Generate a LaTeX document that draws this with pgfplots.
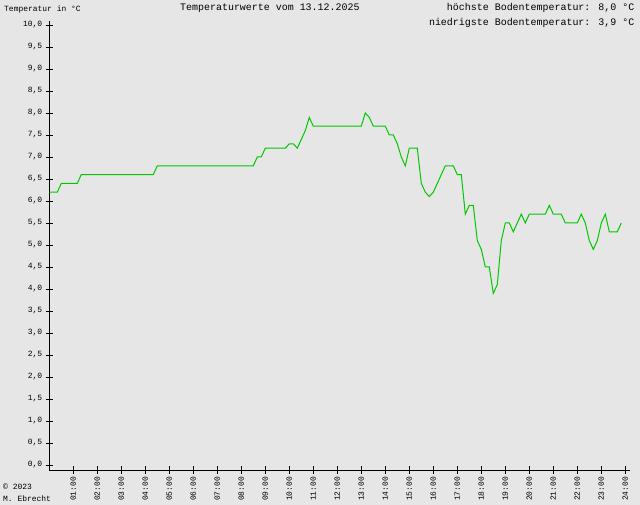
\documentclass[border=0pt]{standalone}
\usepackage{fontspec}
\setmainfont{Liberation Mono}
\usepackage{pgfplots}
\usepackage{pgfplotstable}
\pgfplotsset{compat=1.18}
\definecolor{bg}{RGB}{230,230,230}
\definecolor{lg}{RGB}{0,200,0}
\pgfplotstableread{
k T
0 6.2
1 6.2
2 6.2
3 6.4
4 6.4
5 6.4
6 6.4
7 6.4
8 6.6
9 6.6
10 6.6
11 6.6
12 6.6
13 6.6
14 6.6
15 6.6
16 6.6
17 6.6
18 6.6
19 6.6
20 6.6
21 6.6
22 6.6
23 6.6
24 6.6
25 6.6
26 6.6
27 6.8
28 6.8
29 6.8
30 6.8
31 6.8
32 6.8
33 6.8
34 6.8
35 6.8
36 6.8
37 6.8
38 6.8
39 6.8
40 6.8
41 6.8
42 6.8
43 6.8
44 6.8
45 6.8
46 6.8
47 6.8
48 6.8
49 6.8
50 6.8
51 6.8
52 7.0
53 7.0
54 7.2
55 7.2
56 7.2
57 7.2
58 7.2
59 7.2
60 7.3
61 7.3
62 7.2
63 7.4
64 7.6
65 7.9
66 7.7
67 7.7
68 7.7
69 7.7
70 7.7
71 7.7
72 7.7
73 7.7
74 7.7
75 7.7
76 7.7
77 7.7
78 7.7
79 8.0
80 7.9
81 7.7
82 7.7
83 7.7
84 7.7
85 7.5
86 7.5
87 7.3
88 7.0
89 6.8
90 7.2
91 7.2
92 7.2
93 6.4
94 6.2
95 6.1
96 6.2
97 6.4
98 6.6
99 6.8
100 6.8
101 6.8
102 6.6
103 6.6
104 5.7
105 5.9
106 5.9
107 5.1
108 4.9
109 4.5
110 4.5
111 3.9
112 4.1
113 5.1
114 5.5
115 5.5
116 5.3
117 5.5
118 5.7
119 5.5
120 5.7
121 5.7
122 5.7
123 5.7
124 5.7
125 5.9
126 5.7
127 5.7
128 5.7
129 5.5
130 5.5
131 5.5
132 5.5
133 5.7
134 5.5
135 5.1
136 4.9
137 5.1
138 5.5
139 5.7
140 5.3
141 5.3
142 5.3
143 5.5
}\temps
\begin{document}
\begin{tikzpicture}
\fill[bg] (0,0) rectangle (640bp,505bp);
\begin{axis}[
  anchor=south west, at={(49.3bp,35bp)},
  x=4bp, y=44bp,
  xmin=0, xmax=145.2, ymin=-0.114, ymax=10.09,
  axis x line*=bottom, axis y line*=left,
  axis line style={black, line width=0.9bp},
  tick style={black, line width=0.9bp},
  tick align=center, major tick length=7bp,
  minor tick num=0,
  xtick={6,12,...,144},
  xticklabels={01:00,02:00,03:00,04:00,05:00,06:00,07:00,08:00,09:00,10:00,11:00,12:00,13:00,14:00,15:00,16:00,17:00,18:00,19:00,20:00,21:00,22:00,23:00,24:00},
  ytick={0,0.5,...,10},
  yticklabels={{0,0},{0,5},{1,0},{1,5},{2,0},{2,5},{3,0},{3,5},{4,0},{4,5},{5,0},{5,5},{6,0},{6,5},{7,0},{7,5},{8,0},{8,5},{9,0},{9,5},{10,0}},
  ticklabel style={font=\fontsize{8}{9}\selectfont},
  xticklabel style={rotate=90, anchor=east},
  yticklabel style={anchor=east},
  clip=false,
]
\addplot[lg, line width=1bp] table[x=k, y=T] {\temps};
\end{axis}
\node[anchor=base west, inner sep=0pt, font=\fontsize{8}{9}\selectfont] at (4bp,493.5bp) {Temperatur in °C};
\node[anchor=base west, inner sep=0pt, font=\fontsize{10}{12}\selectfont] at (180bp,494bp) {Temperaturwerte vom 13.12.2025};
\node[anchor=base east, inner sep=0pt, font=\fontsize{10}{12}\selectfont] at (634.5bp,494bp) {höchste Bodentemperatur: 8,0 °C};
\node[anchor=base east, inner sep=0pt, font=\fontsize{10}{12}\selectfont] at (634.5bp,479.5bp) {niedrigste Bodentemperatur: 3,9 °C};
\node[anchor=base west, inner sep=0pt, font=\fontsize{8}{9}\selectfont] at (3bp,15.5bp) {© 2023};
\node[anchor=base west, inner sep=0pt, font=\fontsize{8}{9}\selectfont] at (3bp,4bp) {M. Ebrecht};
\pgfresetboundingbox
\useasboundingbox (0,0) rectangle (640bp,505bp);
\end{tikzpicture}
\end{document}
